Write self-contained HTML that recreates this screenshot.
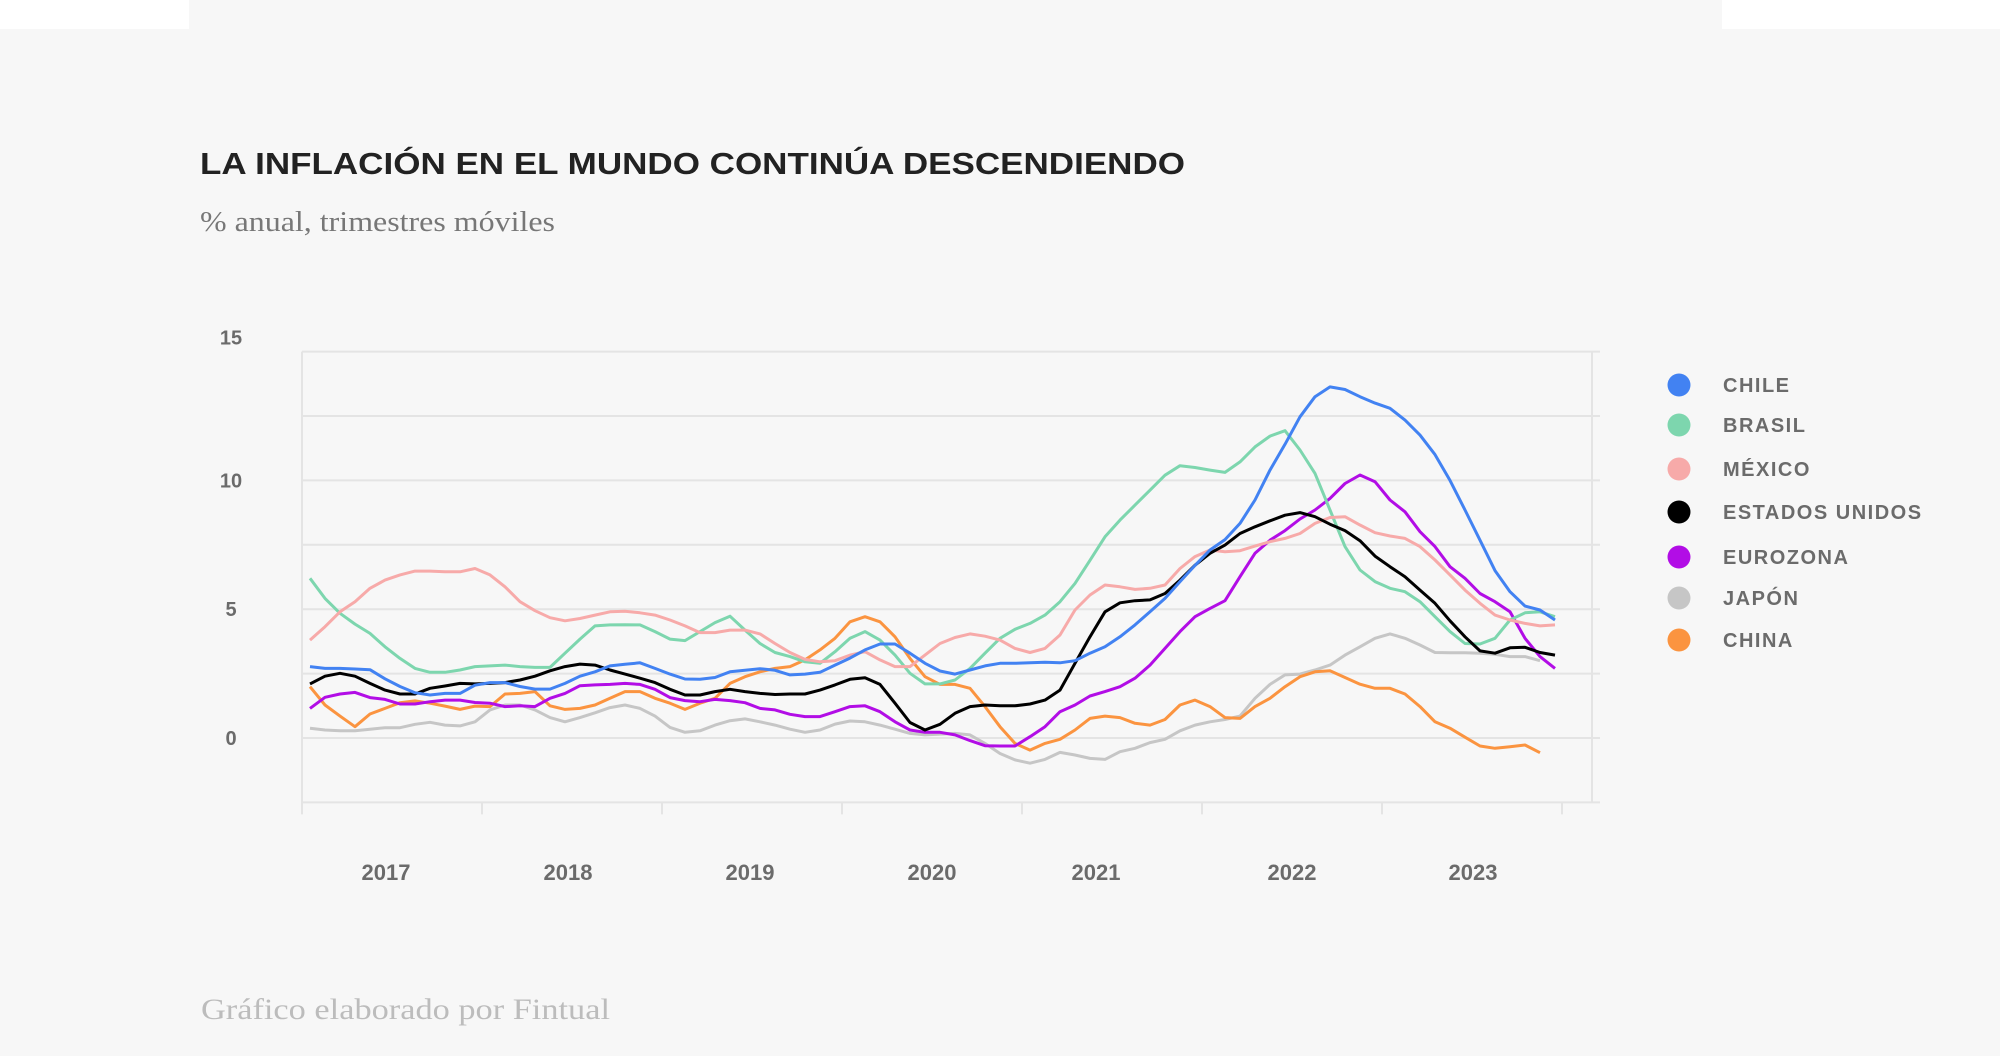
<!DOCTYPE html>
<html><head><meta charset="utf-8"><style>
html,body{margin:0;padding:0;background:#fff;}
svg{display:block;}
</style></head><body>
<svg id="chart" width="2000" height="1056" viewBox="0 0 2000 1056" xmlns="http://www.w3.org/2000/svg">
<rect x="0" y="0" width="2000" height="1056" fill="#ffffff"/>
<rect x="189" y="0" width="1533" height="30" fill="#f7f7f7"/>
<rect x="0" y="29" width="2000" height="1027" fill="#f7f7f7"/>
<text x="200" y="174" font-family="Liberation Sans, sans-serif" font-weight="bold" font-size="31" fill="#222" textLength="985" lengthAdjust="spacingAndGlyphs">LA INFLACIÓN EN EL MUNDO CONTINÚA DESCENDIENDO</text>
<text x="200" y="231" font-family="Liberation Serif, serif" font-size="28" fill="#777" textLength="355" lengthAdjust="spacingAndGlyphs">% anual, trimestres móviles</text>
<text x="201" y="1019" font-family="Liberation Serif, serif" font-size="30" fill="#bcbcbc" textLength="409" lengthAdjust="spacingAndGlyphs">Gráfico elaborado por Fintual</text>
<g id="grid"></g>
<g id="series"></g>
<g id="legend"></g>
</svg>
<script>
const yTicks = [15, 10, 5, 0];
const gridValues = [15, 12.5, 10, 7.5, 5, 2.5, 0, -2.5];
const years = ["2017","2018","2019","2020","2021","2022","2023"];
const yearLabelX = [386, 568, 750, 932, 1096, 1292, 1473];
const chile = [2.77,2.7,2.7,2.68,2.65,2.3,2.0,1.76,1.67,1.73,1.73,2.05,2.15,2.15,2.0,1.9,1.9,2.12,2.4,2.57,2.8,2.86,2.92,2.7,2.48,2.29,2.28,2.35,2.57,2.63,2.69,2.63,2.45,2.48,2.55,2.83,3.1,3.42,3.65,3.65,3.29,2.9,2.6,2.48,2.64,2.8,2.9,2.9,2.92,2.94,2.92,3.0,3.29,3.54,3.93,4.39,4.9,5.42,6.07,6.7,7.3,7.7,8.33,9.24,10.4,11.4,12.47,13.25,13.63,13.53,13.25,13.0,12.8,12.34,11.76,11.0,10.0,8.85,7.68,6.5,5.68,5.12,4.97,4.58];
const brasil = [6.2,5.42,4.84,4.42,4.06,3.54,3.09,2.7,2.55,2.55,2.64,2.77,2.8,2.83,2.77,2.74,2.74,3.29,3.84,4.35,4.39,4.4,4.39,4.13,3.84,3.78,4.13,4.48,4.73,4.19,3.67,3.32,3.16,2.96,2.9,3.35,3.87,4.13,3.8,3.22,2.51,2.1,2.1,2.25,2.7,3.29,3.87,4.22,4.45,4.77,5.29,6.0,6.9,7.81,8.46,9.04,9.62,10.2,10.57,10.5,10.4,10.31,10.72,11.3,11.72,11.93,11.18,10.27,8.85,7.43,6.52,6.07,5.81,5.68,5.29,4.71,4.13,3.67,3.65,3.87,4.58,4.86,4.9,4.71];
const mexico = [3.8,4.32,4.9,5.29,5.81,6.13,6.33,6.48,6.48,6.45,6.45,6.58,6.33,5.87,5.29,4.94,4.67,4.55,4.64,4.77,4.9,4.92,4.86,4.77,4.58,4.35,4.09,4.09,4.19,4.19,4.04,3.67,3.32,3.05,2.96,3.0,3.22,3.35,3.03,2.77,2.77,3.22,3.67,3.9,4.04,3.95,3.8,3.48,3.32,3.48,4.0,4.97,5.55,5.94,5.87,5.77,5.81,5.94,6.58,7.04,7.3,7.23,7.27,7.45,7.62,7.75,7.94,8.33,8.56,8.59,8.27,7.97,7.84,7.75,7.43,6.91,6.33,5.74,5.23,4.77,4.58,4.45,4.35,4.39];
const usa = [2.1,2.4,2.51,2.4,2.12,1.86,1.71,1.71,1.93,2.02,2.12,2.1,2.12,2.15,2.25,2.4,2.61,2.77,2.87,2.83,2.64,2.48,2.32,2.15,1.89,1.67,1.67,1.8,1.89,1.8,1.73,1.69,1.71,1.71,1.86,2.06,2.28,2.34,2.08,1.35,0.6,0.31,0.53,0.96,1.22,1.28,1.25,1.25,1.32,1.47,1.86,2.9,3.93,4.9,5.25,5.33,5.36,5.61,6.13,6.71,7.17,7.49,7.94,8.2,8.43,8.65,8.75,8.59,8.3,8.05,7.66,7.06,6.65,6.26,5.74,5.23,4.55,3.93,3.38,3.29,3.5,3.52,3.32,3.22];
const eurozona = [1.15,1.58,1.71,1.77,1.57,1.5,1.32,1.32,1.41,1.47,1.47,1.38,1.35,1.22,1.25,1.22,1.54,1.73,2.03,2.06,2.08,2.12,2.08,1.89,1.57,1.45,1.41,1.5,1.45,1.37,1.15,1.09,0.92,0.83,0.83,1.02,1.22,1.25,1.02,0.63,0.31,0.22,0.22,0.12,-0.1,-0.3,-0.31,-0.31,0.05,0.44,1.02,1.28,1.63,1.8,1.99,2.32,2.83,3.48,4.13,4.71,5.03,5.33,6.26,7.17,7.68,8.05,8.5,8.85,9.3,9.88,10.21,9.95,9.24,8.78,8.01,7.43,6.65,6.2,5.61,5.29,4.9,3.87,3.16,2.7];
const japon = [0.38,0.31,0.28,0.28,0.34,0.4,0.4,0.53,0.61,0.5,0.47,0.63,1.09,1.28,1.28,1.09,0.79,0.63,0.79,0.98,1.18,1.28,1.15,0.85,0.41,0.22,0.28,0.5,0.67,0.74,0.63,0.5,0.34,0.22,0.31,0.54,0.66,0.63,0.5,0.34,0.18,0.12,0.15,0.18,0.12,-0.21,-0.6,-0.85,-0.98,-0.83,-0.56,-0.66,-0.79,-0.83,-0.53,-0.4,-0.18,-0.05,0.28,0.5,0.63,0.72,0.85,1.54,2.08,2.45,2.48,2.64,2.83,3.22,3.54,3.87,4.04,3.87,3.61,3.32,3.31,3.31,3.29,3.25,3.16,3.16,3.0];
const china = [1.99,1.28,0.85,0.44,0.93,1.15,1.37,1.44,1.35,1.24,1.11,1.24,1.22,1.71,1.73,1.8,1.25,1.11,1.15,1.28,1.54,1.8,1.8,1.54,1.35,1.11,1.35,1.54,2.12,2.38,2.57,2.7,2.77,3.03,3.42,3.87,4.51,4.71,4.51,3.93,3.09,2.38,2.08,2.08,1.93,1.22,0.44,-0.21,-0.47,-0.21,-0.05,0.31,0.76,0.85,0.79,0.57,0.5,0.72,1.28,1.47,1.22,0.79,0.76,1.22,1.54,1.99,2.38,2.57,2.61,2.35,2.09,1.93,1.93,1.71,1.22,0.63,0.38,0.03,-0.31,-0.4,-0.34,-0.27,-0.57];
const seriesNames = ["CHILE","BRASIL","MÉXICO","ESTADOS UNIDOS","EUROZONA","JAPÓN","CHINA"];
const seriesData = [chile, brasil, mexico, usa, eurozona, japon, china];

const NS = "http://www.w3.org/2000/svg";
const colors = ["#4282f2","#7dd6ae","#f7aaa9","#000000","#b20de6","#c6c6c6","#fb9440"];
const drawOrder = [5,6,4,1,2,3,0];
const legendY = [385,425,469,512,557,598,640];
const X0 = 310, DX = 15;
const Y0 = 738, PX_PER_UNIT = 25.76;
function xScale(i){ return X0 + i*DX; }
function yScale(v){ return Y0 - v*PX_PER_UNIT; }
function mk(tag, attrs, parent){
  const el = document.createElementNS(NS, tag);
  for (const k in attrs) el.setAttribute(k, attrs[k]);
  parent.appendChild(el);
  return el;
}
const grid = document.getElementById("grid");
gridValues.forEach(v => {
  const l = mk("line", {x1:302, x2:1600, y1:yScale(v), y2:yScale(v), stroke:"#e4e4e4", "stroke-width":2}, grid);
  
  
});
const la = mk("line", {x1:302, x2:302, y1:yScale(15), y2:yScale(-2.5)+10, stroke:"#e4e4e4", "stroke-width":2}, grid);


const ra = mk("line", {x1:1592, x2:1592, y1:yScale(15), y2:yScale(-2.5), stroke:"#e4e4e4", "stroke-width":2}, grid);


for (let k = 0; k <= years.length; k++) {
  const tx = 302 + k*180;
  const t = mk("line", {x1:tx, x2:tx, y1:yScale(-2.5), y2:yScale(-2.5)+12, stroke:"#e4e4e4", "stroke-width":2}, grid);
  
  
}
yTicks.forEach(v => {
  const t = mk("text", {x:231, y:yScale(v)+7 - (v===15?14:0), "text-anchor":"middle", "font-family":"Liberation Sans, sans-serif", "font-weight":"bold", "font-size":20, fill:"#6b6b6b"}, grid);
  t.textContent = v;
  
  
});
years.forEach((yr, k) => {
  const t = mk("text", {x:yearLabelX[k], y:880, "text-anchor":"middle", "font-family":"Liberation Sans, sans-serif", "font-weight":"bold", "font-size":22, fill:"#6b6b6b"}, grid);
  t.textContent = yr;
  
  
});
const sg = document.getElementById("series");
drawOrder.forEach(s => {
  const pts = seriesData[s].map((v,i) => xScale(i).toFixed(1)+","+yScale(v).toFixed(1)).join(" ");
  const p = mk("polyline", {points:pts, fill:"none", stroke:colors[s], "stroke-width":3, "stroke-linejoin":"round"}, sg);
  
  
});
const lg = document.getElementById("legend");
seriesNames.forEach((n, s) => {
  const c = mk("circle", {cx:1679, cy:legendY[s], r:11.5, fill:colors[s]}, lg);
  
  
  const t = mk("text", {x:1723, y:legendY[s]+7, "font-family":"Liberation Sans, sans-serif", "font-weight":"bold", "font-size":20, "letter-spacing":"1.5", fill:"#6b6b6b"}, lg);
  t.textContent = n;
  
  
});
</script>
</body></html>
